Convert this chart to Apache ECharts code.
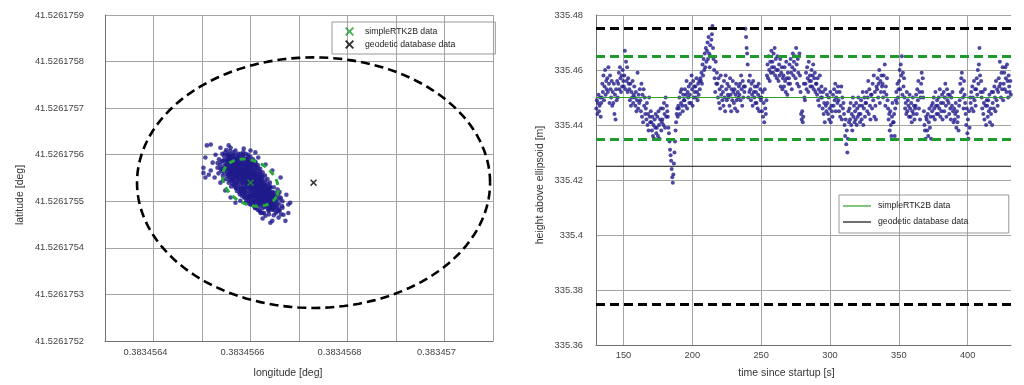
<!DOCTYPE html>
<html><head><meta charset="utf-8">
<script src="https://cdn.jsdelivr.net/npm/echarts@6/dist/echarts.min.js"></script>
<style>html,body{margin:0;padding:0;background:#fff}#c{width:1024px;height:385px}</style>
</head><body><div id="c"></div>
<script>
// ================= LEFT CHART: horizontal position =================
const lonTickLabels = ['0.3834564', '0.3834566', '0.3834568', '0.383457'];
const latTickLabels = ['41.5261752', '41.5261753', '41.5261754', '41.5261755', '41.5261756', '41.5261757', '41.5261758', '41.5261759'];
const LON_MIN = 0.3834563, LON_MAX = 0.3834571, LON_STEP = 1e-7;
const LAT_MIN = 41.5261752, LAT_MAX = 41.5261759, LAT_STEP = 1e-7;

// mean simpleRTK2B position and geodetic database position (deg)
const rtkMeanPos = [0.38345660, 41.52617554];
const geodeticPos = [0.38345673, 41.52617554];
// geodetic accuracy ellipse semi-axes (deg lon, deg lat)
const geodeticRadius = [3.64e-7, 2.69e-7];
// simpleRTK2B spread ellipse: two conjugate semi-axis vectors (deg lon, deg lat)
const rtkEllipseU = [5.36e-8, -3.00e-8];
const rtkEllipseV = [-2.06e-8, -4.08e-8];

// simpleRTK2B fixes, offsets from mean in 1e-9 deg: [dLon, dLat]
const cloudOffsetsNano = [
[-52,30],[-48,45],[-55,22],[-46,55],[-50,38],[-44,28],[-53,50],[-47,18],[-49,60],[-45,40],
[-42,35],[-38,50],[-40,20],[-36,42],[-44,12],[-39,58],[-41,28],[-37,8],[-43,48],[-35,30],[-40,40],[-38,15],
[-33,25],[-30,45],[-28,10],[-34,38],[-31,5],[-27,52],[-29,30],[-32,15],[-26,40],[-35,50],[-30,20],[-28,0],[-33,-5],[-27,33],
[-23,30],[-20,15],[-18,40],[-24,5],[-22,48],[-16,25],[-19,-5],[-21,22],[-17,8],[-25,38],[-15,35],[-20,-12],[-23,18],[-18,0],[-16,45],
[-13,20],[-10,35],[-8,5],[-14,-8],[-12,42],[-6,15],[-9,28],[-11,-15],[-7,-2],[-13,10],[-5,30],[-10,-20],[-8,22],[-12,0],[-6,38],
[-3,12],[0,25],[2,-5],[-4,-18],[1,8],[4,32],[-2,-28],[3,18],[0,-12],[-1,40],[5,-22],[2,0],[-3,28],[4,-8],
[7,5],[10,-15],[12,20],[8,-28],[14,-5],[6,15],[11,-35],[13,8],[9,-20],[15,-12],[6,-40],[12,-2],[8,28],[14,-30],
[17,-10],[20,-25],[22,0],[18,-38],[24,-18],[16,5],[21,-45],[19,-30],[23,-8],[25,-35],[17,-20],[22,12],[20,-50],
[27,-20],[30,-35],[28,-5],[32,-45],[26,-28],[34,-15],[29,-52],[31,-25],[33,-38],[27,-10],[35,-30],
[37,-25],[40,-40],[38,-12],[42,-50],[36,-35],[44,-30],[39,-55],[41,-20],[43,-42],
[47,-35],[50,-48],[46,-22],[52,-40],[48,-58],[54,-30],[45,-45],[51,-52],
[-50,48],[-46,32],[-42,55],[-40,30],[-36,22],[-34,55],[-31,40],[-29,12],[-26,25],[-24,45],[-22,10],[-21,35],[-19,20],[-17,-12],
[-15,12],[-14,30],[-12,-20],[-11,15],[-9,45],[-8,-10],[-7,32],[-5,0],[-4,20],[-2,-10],[-1,10],[0,-25],[1,30],[2,15],[3,-30],
[4,5],[5,22],[6,-12],[7,-25],[8,10],[9,-3],[10,25],[11,-10],[12,-25],[13,-45],[14,15],[15,0],[16,-30],[17,-42],[18,-5],
[19,10],[20,-15],[21,-32],[22,-22],[23,-40],[24,-2],[25,-15],[26,-45],[27,-30],[28,-40],[29,-15],[30,-22],[31,-48],[32,-8],
[33,-28],[34,-50],[36,-18],[38,-45],[40,-30],[42,-35],[44,-48],[-38,30],[-33,45],[-27,18],[-20,28],[-16,0],[-13,-15],[-10,10],
[-6,-25],[-3,-2],[0,15],[3,-15],[6,-30],[9,12],[12,-12],[15,-25],[18,-15],[21,-2],[24,-28],[28,-25],[32,-30],[36,-42],
[-45,25],[-30,60],[-25,55],[-10,50],[0,45],[-18,52],[5,40],[10,-38],[-20,-20],[-15,-18],[-5,-30],[5,-35],[15,-48],[25,-55],
[35,-55],[45,-58],[-35,10],[-40,8],[-25,-3],[30,-5],[40,-8],[20,5],[10,35],[-5,45],
[-60,45],[-62,30],[-58,62],[-65,50],[-57,15],[-63,38],[-68,42],[-56,5],[-60,25],[-66,20],
[-50,70],[-42,68],[-35,65],[-25,62],[-15,58],[-5,55],[-45,0],[-50,8],[-38,-2],[-30,-12],[-22,-25],[-12,-32],[-2,-40],[8,-52],
[18,-60],[28,-65],[38,-68],[48,-70],[58,-45],[60,-60],[62,-35],[57,-25],[65,-50],[63,-68],[56,-15],[66,-40],[60,-20],[55,-62],
[10,45],[20,30],[30,15],[40,0],[48,-10],[25,22],[15,38],[35,8],[-20,5],[-28,-18],[-15,-25],[-5,-35],[5,-45],[-40,-8],
[0,0],[5,10],[-5,5],[10,0],[-10,20],[15,-20],[-15,15],[20,-10],[-25,25],[25,-25],[30,-40],[-30,35],[35,-45],[-35,40],
[40,-50],[-45,50],[45,-55],[0,-5],[-2,18],[8,-8],[-8,12],[18,-22],[-18,28],[28,-30],[-28,22],[38,-35],[-38,40],[48,-42],[-48,35],
[-45,35],[-42,42],[-40,25],[-37,35],[-35,20],[-33,35],[-31,28],[-29,40],[-27,25],[-25,15],[-24,32],[-22,20],[-21,42],[-19,12],
[-17,30],[-16,18],[-14,40],[-13,5],[-11,25],[-10,0],[-9,15],[-8,35],[-7,10],[-6,-5],[-5,22],[-4,-10],[-3,35],[-2,5],[-1,-18],
[0,32],[1,-8],[2,22],[3,5],[4,-20],[5,12],[6,-2],[7,20],[8,-15],[9,5],[10,-28],[11,8],[12,-18],[13,-5],[14,-22],[15,8],
[16,-12],[17,-32],[18,2],[19,-20],[20,-40],[21,-12],[22,-30],[23,-18],[24,-45],[25,-5],[26,-22],[27,-40],[28,-12],[29,-30],
[30,-50],[31,-15],[32,-38],[33,-20],[34,-42],[35,-10],[36,-28],[37,-48],[38,-20],[39,-35],[41,-45],[42,-25],[43,-55],[44,-38],
[46,-50],[47,-28],[49,-40],[50,-30],[52,-55],[-47,48],[-44,58],[-41,18],[-39,45],[-36,60],[-34,12],[-32,52],[-30,28],[-28,48],
[-26,8],[-23,55],[-20,40],[-18,18],[-15,50],[-12,30],[-9,-8],[-7,48],[-4,42],[-1,-30],[2,38],[5,-10],[8,-40],[11,18],[14,-40],
[17,15],[20,-35],[23,5],[26,-12],[29,-42],[32,-20],[35,-40],[38,-60],[41,-10],
[0,55],[5,50],[10,42],[15,32],[20,22],[25,15],[30,5],[35,-2],[40,-12],[45,-20],[-5,60],[-10,62],[-15,65],[-20,62],[2,48],
[8,38],[12,28],[18,18],[22,8],[28,0],[33,-8],[38,-18],[43,-28],[50,-22],[55,-35],
[0,-38],[-5,-30],[-10,-28],[-15,-22],[-20,-15],[-25,-10],[-30,-2],[-35,2],[-40,12],[-45,18],[5,-48],[10,-55],[15,-58],[20,-62],
[25,-65],[-3,-45],[-8,-38],[-13,-32],[-18,-28],[-23,-20],[-28,-12],[-33,-8],[-38,5],[-43,5],[-48,15],
[-40,50],[-35,35],[-30,50],[-25,48],[-20,50],[-12,52],[-6,50],[3,42],[8,45],[12,35],[18,25],[24,12],[30,-12],[35,-22],[40,-25],
[45,-32],[50,-38],[55,-48],[58,-55],[-50,25],[-55,35],[-58,30],[-52,42],[-45,62],[-55,58],
[-82,82],[-90,80],[-62,75],[-41,75],[-45,80],[-14,73],[-93,54],[-97,32],[-97,21],[-78,43],[-86,17],[-72,60],[-52,65],[-31,69],
[-16,60],[-82,26],[-68,32],[-58,47],[-93,11],[-74,11],[-62,0],[-52,-17],[-41,-32],[-31,-43],[-45,54],
[0,69],[16,54],[31,39],[45,26],[62,11],[10,65],
[72,-82],[41,-86],[58,-75],[78,-65],[82,-43],[66,-54],[52,-65],[31,-71],[21,-65],[74,-26],[62,-32],[37,-60],[10,-54],
[0,-47],[-10,-43],[-21,-39],[45,-82],[68,-69],[78,-47],[25,-77],[58,-60]
];

// ================= RIGHT CHART: height over time =================
const timeTickLabels = ['150', '200', '250', '300', '350', '400'];
const heightTickLabels = ['335.36', '335.38', '335.4', '335.42', '335.44', '335.46', '335.48'];
const TIME_MIN = 130, TIME_MAX = 431.5;
const HEIGHT_MIN = 335.36, HEIGHT_MAX = 335.48, HEIGHT_STEP = 0.02;
const TIME_START = 130.2, TIME_STEP = 0.4;   // sample timing of the receiver
const HEIGHT_BASE = 335.4;                  // heights below are mm above this
const rtkMeanHeight = 335.450;
const rtkBandHeights = [335.465, 335.435];
const geodeticHeight = 335.425;
const geodeticBandHeights = [335.475, 335.375];

const heightOffsetMm = [
46,49,44,48,51,45,47,50,43,48, 50,55,52,58,49,54,60,51,56,53, 57,52,61,55,48,58,53,50,56,47,
52,48,55,44,51,42,53,49,56,50, 55,59,53,61,57,52,58,54,60,56, 54,58,67,53,63,56,61,52,57,55,
53,49,55,47,52,50,56,48,51,54, 50,47,52,45,49,59,46,51,48,53, 49,45,55,43,51,41,53,47,50,44,
46,42,48,40,44,38,50,43,41,45, 41,38,43,36,40,35,42,39,44,37, 39,43,36,45,40,35,42,46,38,41,
42,46,40,48,44,39,50,43,47,45, 43,39,37,34,31,29,27,24,21,19, 22,26,30,34,38,41,44,46,43,47,
46,50,44,52,48,53,47,45,51,49, 49,53,47,51,56,46,52,50,54,48, 51,55,48,58,53,47,56,50,54,52,
54,50,57,52,49,55,51,56,53,57, 56,59,55,62,58,64,60,66,61,68, 63,67,70,64,72,66,61,69,65,71,
73,76,68,64,60,57,52,63,55,59, 55,50,57,48,53,46,58,51,54,49, 52,47,56,50,45,58,53,49,55,51,
50,54,47,57,51,45,53,49,56,52, 48,53,46,51,55,49,45,52,50,54, 51,55,49,58,53,47,56,50,54,52,
54,75,72,68,66,62,50,56,52,58, 53,49,55,51,47,56,52,50,54,48, 52,48,54,46,51,55,45,50,53,49,
50,45,52,43,48,41,53,46,44,49, 58,62,57,65,60,56,63,59,67,61, 63,59,66,61,68,58,64,60,57,65,
60,56,62,58,64,54,59,61,53,57, 58,54,61,56,52,63,57,51,59,55, 57,62,55,64,59,53,61,66,58,63,
60,65,57,68,62,55,64,59,54,66, 58,52,44,42,45,41,43,55,50,49, 55,59,53,61,57,52,63,56,58,54,
56,60,54,58,62,53,57,59,52,55, 55,51,57,49,53,47,58,52,50,54, 50,46,52,44,48,41,53,47,45,51,
48,44,50,42,46,52,41,47,45,43, 51,47,53,49,55,45,50,52,48,54, 49,45,52,43,47,54,42,50,46,48,
44,40,36,42,33,38,30,35,45,41, 46,42,48,40,44,38,50,43,47,41, 45,42,48,40,46,43,50,44,47,41,
44,49,42,47,52,40,46,50,43,48, 48,52,45,50,56,44,53,47,42,51, 51,46,55,49,58,43,52,47,42,54,
53,57,50,55,60,48,56,52,58,54, 55,50,58,52,62,47,54,51,57,49, 46,42,44,38,45,40,36,43,48,41,
41,44,36,46,49,52,48,55,50,53, 56,60,53,62,58,65,51,59,54,57, 50,46,48,44,52,45,49,47,43,51,
46,43,48,41,45,50,44,47,42,46, 47,51,44,53,49,56,46,52,42,50, 55,59,52,57,50,45,40,38,35,43,
42,38,44,36,41,46,39,43,35,47, 45,48,43,50,46,42,52,47,44,49, 47,44,50,46,53,43,48,45,51,42,
48,52,45,50,55,47,43,53,49,51, 48,44,51,46,42,50,47,52,45,41, 46,42,44,48,39,45,41,43,38,47,
49,55,52,57,59,53,50,46,56,51, 48,44,40,46,37,42,35,45,39,50, 48,52,46,54,50,45,56,49,53,47,
53,57,51,60,55,62,68,58,52,56, 50,46,52,44,48,42,53,47,40,49, 47,43,49,45,51,41,46,44,52,40,
48,52,46,54,50,45,56,49,53,47, 52,57,54,63,55,50,59,53,61,49, 55,59,53,61,57,52,62,56,50,58,
54,52,56,51,55
];

// ================= build series data =================
const cloudData = cloudOffsetsNano.map(p => [rtkMeanPos[0] + p[0] * 1e-9, rtkMeanPos[1] + p[1] * 1e-9]);
function ellipse(c, u, v) {
  const pts = [];
  for (let i = 0; i <= 144; i++) {
    const t = 2 * Math.PI * i / 144;
    pts.push([c[0] + u[0] * Math.cos(t) + v[0] * Math.sin(t), c[1] + u[1] * Math.cos(t) + v[1] * Math.sin(t)]);
  }
  return pts;
}
const geodeticEllipse = ellipse(geodeticPos, [geodeticRadius[0], 0], [0, geodeticRadius[1]]);
const rtkEllipse = ellipse(rtkMeanPos, rtkEllipseU, rtkEllipseV);
const heightData = heightOffsetMm.map((mm, i) => [TIME_START + i * TIME_STEP, HEIGHT_BASE + mm / 1000]);

const FONT = 'Liberation Sans';
const NAVY = '#201b8c';
const GREEN = '#1f9a2d';
const CROSS = 'path://M0,1.5L1.5,0L5,3.5L8.5,0L10,1.5L6.5,5L10,8.5L8.5,10L5,6.5L1.5,10L0,8.5L3.5,5Z';
const labelStyle = {fontFamily: FONT, fontSize: 9.3, color: '#444'};
const nameStyle = {fontFamily: FONT, fontSize: 10.5, color: '#333'};
const gridLine = {show: true, lineStyle: {color: '#a4a4a4', width: 1}};
const axisLine = {show: true, onZero: false, lineStyle: {color: '#707070', width: 1}};

const chart = echarts.init(document.getElementById('c'), null, {renderer: 'canvas'});
chart.setOption({
  animation: false,
  backgroundColor: '#fff',
  grid: [
    {left: 105, top: 15, width: 388, height: 326},
    {left: 596, top: 15, width: 415, height: 330}
  ],
  xAxis: [
    {gridIndex: 0, type: 'value', min: LON_MIN, max: LON_MAX, interval: LON_STEP,
     name: 'longitude [deg]', nameLocation: 'middle', nameGap: 27,
     nameTextStyle: Object.assign({padding: [0, 22, 0, 0]}, nameStyle),
     axisLine: axisLine, axisTick: {show: false}, splitLine: gridLine,
     axisLabel: Object.assign({margin: 7, padding: [0, 16, 0, 0], showMinLabel: true, showMaxLabel: true,
       formatter: v => { const s = parseFloat(v.toFixed(7)).toString(); return lonTickLabels.includes(s) ? s : ''; }}, labelStyle)},
    {gridIndex: 1, type: 'value', min: TIME_MIN, max: TIME_MAX,
     name: 'time since startup [s]', nameLocation: 'middle', nameGap: 23,
     nameTextStyle: Object.assign({padding: [0, 34, 0, 0]}, nameStyle),
     axisLine: axisLine, axisTick: {show: false},
     splitLine: {show: true, showMinLine: false, showMaxLine: false, lineStyle: {color: '#a4a4a4', width: 1}},
     axisLabel: Object.assign({margin: 6,
       formatter: v => { const s = String(Math.round(v)); return (Math.abs(v - Math.round(v)) < 1e-6 && timeTickLabels.includes(s)) ? s : ''; }}, labelStyle)}
  ],
  yAxis: [
    {gridIndex: 0, type: 'value', min: LAT_MIN, max: LAT_MAX, interval: LAT_STEP,
     name: 'latitude [deg]', nameLocation: 'middle', nameGap: 79,
     nameTextStyle: Object.assign({padding: [0, 34, 0, 0]}, nameStyle),
     axisLine: axisLine, axisTick: {show: false}, splitLine: gridLine,
     axisLabel: Object.assign({margin: 21, formatter: v => { const s = v.toFixed(7); return latTickLabels.includes(s) ? s : ''; }}, labelStyle)},
    {gridIndex: 1, type: 'value', min: HEIGHT_MIN, max: HEIGHT_MAX, interval: HEIGHT_STEP,
     name: 'height above ellipsoid [m]', nameLocation: 'middle', nameGap: 50,
     nameTextStyle: Object.assign({padding: [0, 10, 0, 0]}, nameStyle),
     axisLine: axisLine, axisTick: {show: false}, splitLine: gridLine,
     axisLabel: Object.assign({margin: 13, formatter: v => { const s = parseFloat(v.toFixed(2)).toString(); return heightTickLabels.includes(s) ? s : ''; }}, labelStyle)}
  ],
  legend: [
    {data: ['simpleRTK2B data', 'geodetic database data'], orient: 'vertical', left: 332, top: 22,
     padding: [5, 40, 5, 13], itemWidth: 9, itemHeight: 9, itemGap: 4,
     borderColor: '#999', borderWidth: 1, selectedMode: false,
     textStyle: {fontFamily: FONT, fontSize: 8.7, color: '#222', padding: [0, 0, 0, 6]}},
    {data: [{name: 'simpleRTK2B data ', icon: 'rect'}, {name: 'geodetic database data ', icon: 'rect'}],
     orient: 'vertical', left: 839, top: 195,
     padding: [6, 38, 6, 4], itemWidth: 28, itemHeight: 1.2, itemGap: 6,
     borderColor: '#999', borderWidth: 1, selectedMode: false,
     textStyle: {fontFamily: FONT, fontSize: 8.7, color: '#222', lineHeight: 10, padding: [0, 0, 0, 2]}}
  ],
  series: [
    // ---- left ----
    {name: 'geodetic accuracy', type: 'line', xAxisIndex: 0, yAxisIndex: 0, data: geodeticEllipse,
     symbol: 'none', silent: true, lineStyle: {color: '#000', width: 2.6, type: [9, 5]}},
    {name: 'fixes', type: 'scatter', xAxisIndex: 0, yAxisIndex: 0, data: cloudData,
     symbol: 'circle', symbolSize: 4.6, itemStyle: {color: NAVY}, silent: true},
    {name: 'rtk spread', type: 'line', xAxisIndex: 0, yAxisIndex: 0, data: rtkEllipse,
     symbol: 'none', silent: true, lineStyle: {color: '#26a83a', width: 3, type: [6, 5]}},
    {name: 'simpleRTK2B data', type: 'scatter', xAxisIndex: 0, yAxisIndex: 0, data: [rtkMeanPos],
     symbol: CROSS, symbolSize: 7, itemStyle: {color: GREEN}},
    {name: 'geodetic database data', type: 'scatter', xAxisIndex: 0, yAxisIndex: 0, data: [geodeticPos],
     symbol: CROSS, symbolSize: 7, itemStyle: {color: '#000'}},
    // ---- right ----
    {name: 'simpleRTK2B data ', type: 'line', xAxisIndex: 1, yAxisIndex: 1,
     data: [[TIME_MIN, rtkMeanHeight], [TIME_MAX, rtkMeanHeight]],
     symbol: 'none', silent: true, lineStyle: {color: '#2ca02c', width: 1}, itemStyle: {color: '#2ca02c'},
     markLine: {silent: true, symbol: 'none', precision: 4, label: {show: false},
       lineStyle: {color: GREEN, width: 3, type: [9, 5]},
       data: rtkBandHeights.map(h => ({yAxis: h}))}},
    {name: 'geodetic database data ', type: 'line', xAxisIndex: 1, yAxisIndex: 1,
     data: [[TIME_MIN, geodeticHeight], [TIME_MAX, geodeticHeight]],
     symbol: 'none', silent: true, lineStyle: {color: '#111', width: 1}, itemStyle: {color: '#111'},
     markLine: {silent: true, symbol: 'none', precision: 4, label: {show: false},
       lineStyle: {color: '#000', width: 3, type: [9, 5]},
       data: geodeticBandHeights.map(h => ({yAxis: h}))}},
    {name: 'height', type: 'scatter', xAxisIndex: 1, yAxisIndex: 1, data: heightData,
     symbol: 'circle', symbolSize: 4, itemStyle: {color: NAVY}, silent: true}
  ]
});
</script>
</body></html>
